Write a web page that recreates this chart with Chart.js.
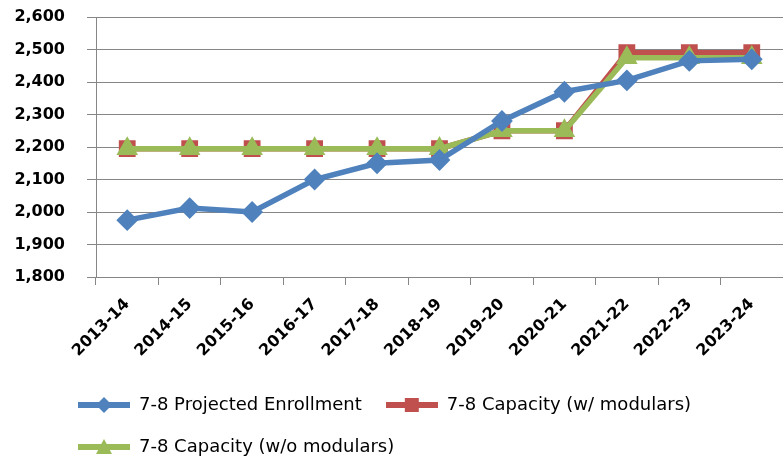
<!DOCTYPE html>
<html>
<head>
<meta charset="utf-8">
<script src="https://cdn.jsdelivr.net/npm/chart.js@4.4.0/dist/chart.umd.min.js"></script>
<style>
  html, body { margin: 0; padding: 0; background: #fff; overflow: hidden; }
  #wrap { width: 783px; height: 459px; }
</style>
</head>
<body>
<div id="wrap"><canvas id="enrollChart"></canvas></div>
<script>
// school years on the x axis
const years = [
  "2013-14", "2014-15", "2015-16", "2016-17", "2017-18", "2018-19",
  "2019-20", "2020-21", "2021-22", "2022-23", "2023-24",
];
// grade 7-8 numbers per year
const projectedEnrollment = [1975, 2012, 2000, 2100, 2150, 2160, 2280, 2370, 2405, 2465, 2470];
const capacityWithModulars = [2195, 2195, 2195, 2195, 2195, 2195, 2250, 2250, 2490, 2490, 2490];
const capacityWithoutModulars = [2195, 2195, 2195, 2195, 2195, 2195, 2250, 2250, 2475, 2475, 2475];

const seriesNames = [
  "7-8 Projected Enrollment",
  "7-8 Capacity (w/ modulars)",
  "7-8 Capacity (w/o modulars)",
];

// y axis range
const yMin = 1800;
const yMax = 2600;
const yStep = 100;

const blue = "#4f81bd";
const red = "#c0504d";
const green = "#9bbb59";
const gridGray = "#868686";
const fontFamily = "DejaVu Sans, Verdana, sans-serif";

// little line + marker swatch for the legend
function legendSwatch(color, style) {
  const c = document.createElement("canvas");
  c.width = 52;
  c.height = 18;
  const g = c.getContext("2d");
  g.strokeStyle = color;
  g.fillStyle = color;
  g.lineWidth = 6;
  g.beginPath();
  g.moveTo(0, 9);
  g.lineTo(52, 9);
  g.stroke();
  g.beginPath();
  if (style === "diamond") {
    g.moveTo(26, 1);
    g.lineTo(34, 9);
    g.lineTo(26, 17);
    g.lineTo(18, 9);
  } else if (style === "square") {
    g.rect(19, 2, 14, 14);
  } else {
    g.moveTo(26, 1);
    g.lineTo(34, 16);
    g.lineTo(18, 16);
  }
  g.closePath();
  g.fill();
  return c;
}

const swatches = [
  legendSwatch(blue, "diamond"),
  legendSwatch(red, "square"),
  legendSwatch(green, "triangle"),
];

// push the legend rows in from the left edge
const legendIndent = {
  id: "legendIndent",
  afterLayout(chart) {
    chart.legend.left = 54;
  },
};

const ctx = document.getElementById("enrollChart").getContext("2d");

new Chart(ctx, {
  type: "line",
  data: {
    labels: years,
    datasets: [
      {
        label: seriesNames[0],
        data: projectedEnrollment,
        borderColor: blue,
        backgroundColor: blue,
        borderWidth: 5.5,
        pointStyle: "rectRot",
        pointRadius: 7,
        order: 0,
      },
      {
        label: seriesNames[1],
        data: capacityWithModulars,
        borderColor: red,
        backgroundColor: red,
        borderWidth: 5.5,
        pointStyle: "rect",
        pointRadius: 8,
        order: 2,
      },
      {
        label: seriesNames[2],
        data: capacityWithoutModulars,
        borderColor: green,
        backgroundColor: green,
        borderWidth: 5.5,
        pointStyle: "triangle",
        pointRadius: 7,
        order: 1,
      },
    ],
  },
  options: {
    responsive: true,
    maintainAspectRatio: false,
    animation: false,
    layout: {
      autoPadding: false,
      padding: { top: 0, right: -4, left: 15, bottom: -7 },
    },
    scales: {
      x: {
        offset: true,
        grid: {
          offset: true,
          drawOnChartArea: false,
          color: gridGray,
          tickLength: 8,
        },
        border: { color: gridGray },
        ticks: {
          color: "#000",
          maxRotation: 45,
          minRotation: 45,
          padding: 10,
          font: { family: fontFamily, size: 16, weight: "bold" },
        },
        // plot runs to the right edge; band under it is fixed
        afterFit: (scale) => {
          scale.paddingLeft = 0;
          scale.paddingRight = 0;
          scale.height = 95;
        },
      },
      y: {
        min: yMin,
        max: yMax,
        grid: { color: gridGray, tickLength: 9 },
        border: { color: gridGray },
        ticks: {
          stepSize: yStep,
          color: "#000",
          padding: 22,
          font: { family: fontFamily, size: 16, weight: "bold" },
          callback: (v) => v.toLocaleString("en-US"),
        },
        afterFit: (scale) => {
          scale.width = 81;
          scale.paddingTop = 17;
          scale.paddingBottom = 0;
        },
      },
    },
    plugins: {
      tooltip: { enabled: false },
      legend: {
        position: "bottom",
        align: "start",
        labels: {
          color: "#000",
          padding: 24,
          usePointStyle: true,
          pointStyleWidth: 52,
          font: { family: fontFamily, size: 18 },
          generateLabels: (chart) =>
            chart.data.datasets.map((ds, i) => ({
              text: ds.label,
              pointStyle: swatches[i],
              fillStyle: ds.borderColor,
              strokeStyle: ds.borderColor,
              lineWidth: 0,
              datasetIndex: i,
              hidden: false,
            })),
        },
      },
    },
  },
  plugins: [legendIndent],
});
</script>
</body>
</html>
